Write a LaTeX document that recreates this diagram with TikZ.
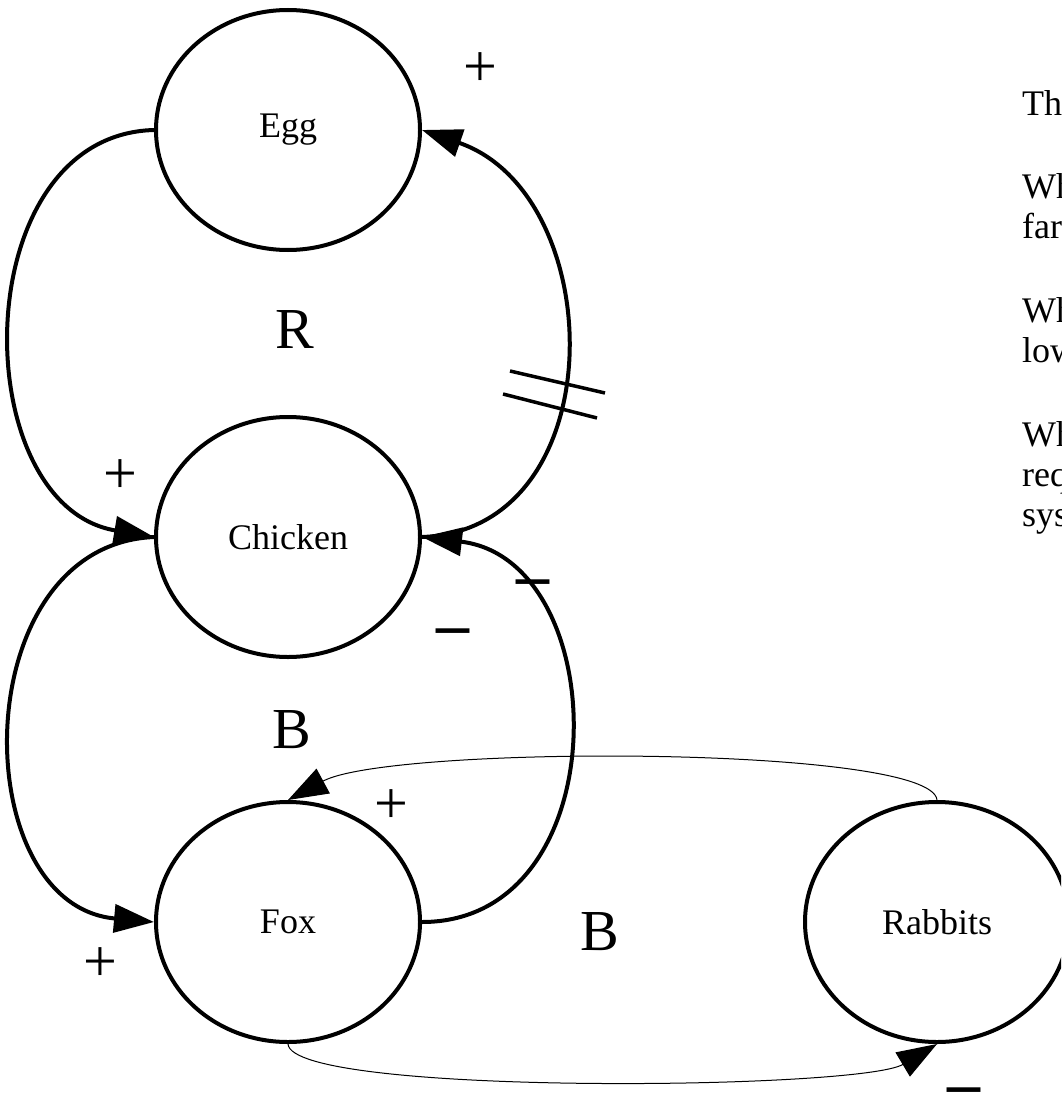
\documentclass[tikz,border=0pt]{standalone}
\usepackage{fontspec}
\setmainfont{Liberation Serif}
\usetikzlibrary{arrows.meta, shapes.geometric}
\tikzset{
  stock/.style={ellipse, draw=black, line width=4pt, minimum width=264pt, minimum height=240pt, inner sep=0pt, font=\fontsize{36}{40}\selectfont},
  link/.style={line width=4pt, -{Triangle[length=40pt,width=28pt]}},
  thinlink/.style={line width=1pt, -{Triangle[length=40pt,width=28pt]}},
  loopname/.style={font=\fontsize{58}{60}\selectfont, inner sep=0pt},
  plus/.style={font=\fontsize{60}{60}\selectfont, inner sep=0pt},
  minus/.style={font=\fontsize{66}{66}\selectfont\bfseries, inner sep=0pt, anchor=base},
  note/.style={font=\fontsize{36}{40}\selectfont, anchor=base west, inner sep=0pt}
}

\begin{document}
\begin{tikzpicture}[x=1pt, y=-1pt]
  \useasboundingbox (0,0) rectangle (1061,1097);
  \clip (0,0) rectangle (1061,1097);

  \node[stock] (egg) at (288,130) {Egg};
  \node[stock] (chicken) at (288,537) {Chicken};
  \node[stock] (fox) at (288,922) {Fox};
  \node[stock] (rabbits) at (937,922) {Rabbits};

  \draw[link] (egg.west) .. controls (-35,135) and (-35,505) .. (chicken.west);
  \draw[link] (chicken.east) .. controls (615,530) and (610,195) .. (egg.east);
  \draw[link] (chicken.west) .. controls (-35,545) and (-35,905) .. (fox.west);
  \draw[link] (fox.east) .. controls (620,922) and (615,560) .. (chicken.east);
  \draw[thinlink] (rabbits.north) .. controls (932,745) and (390,745) .. (fox.north);
  \draw[thinlink] (fox.south) .. controls (292,1096) and (860,1090) .. (rabbits.south);

  % delay mark
  \draw[line width=3.5pt] (510,371) -- (605,393);
  \draw[line width=3.5pt] (503,394) -- (597,418);

  \node[loopname] (loopR) at (295,330) {R};
  \node[loopname] (loopB) at (292,730) {B};
  \node[loopname] (loopBB) at (600,932) {B};

  \node[plus] (p1) at (480,70) {+};
  \node[plus] (p2) at (120,477) {+};
  \node[plus] (p3) at (391,807) {+};
  \node[plus] (p4) at (100,965) {+};
  \node[minus] (m1) at (533,597) {–};
  \node[minus] (m2) at (453,646) {–};
  \node[minus] (m3) at (964,1105) {–};

  \foreach \t/\y [count=\i] in {Th/116, Wh/198, far/238, Wh/322, low/362, Wh/446, req/486, sys/526}
    \node[note] (note\i) at (1022,\y) {\t};
\end{tikzpicture}
\end{document}
